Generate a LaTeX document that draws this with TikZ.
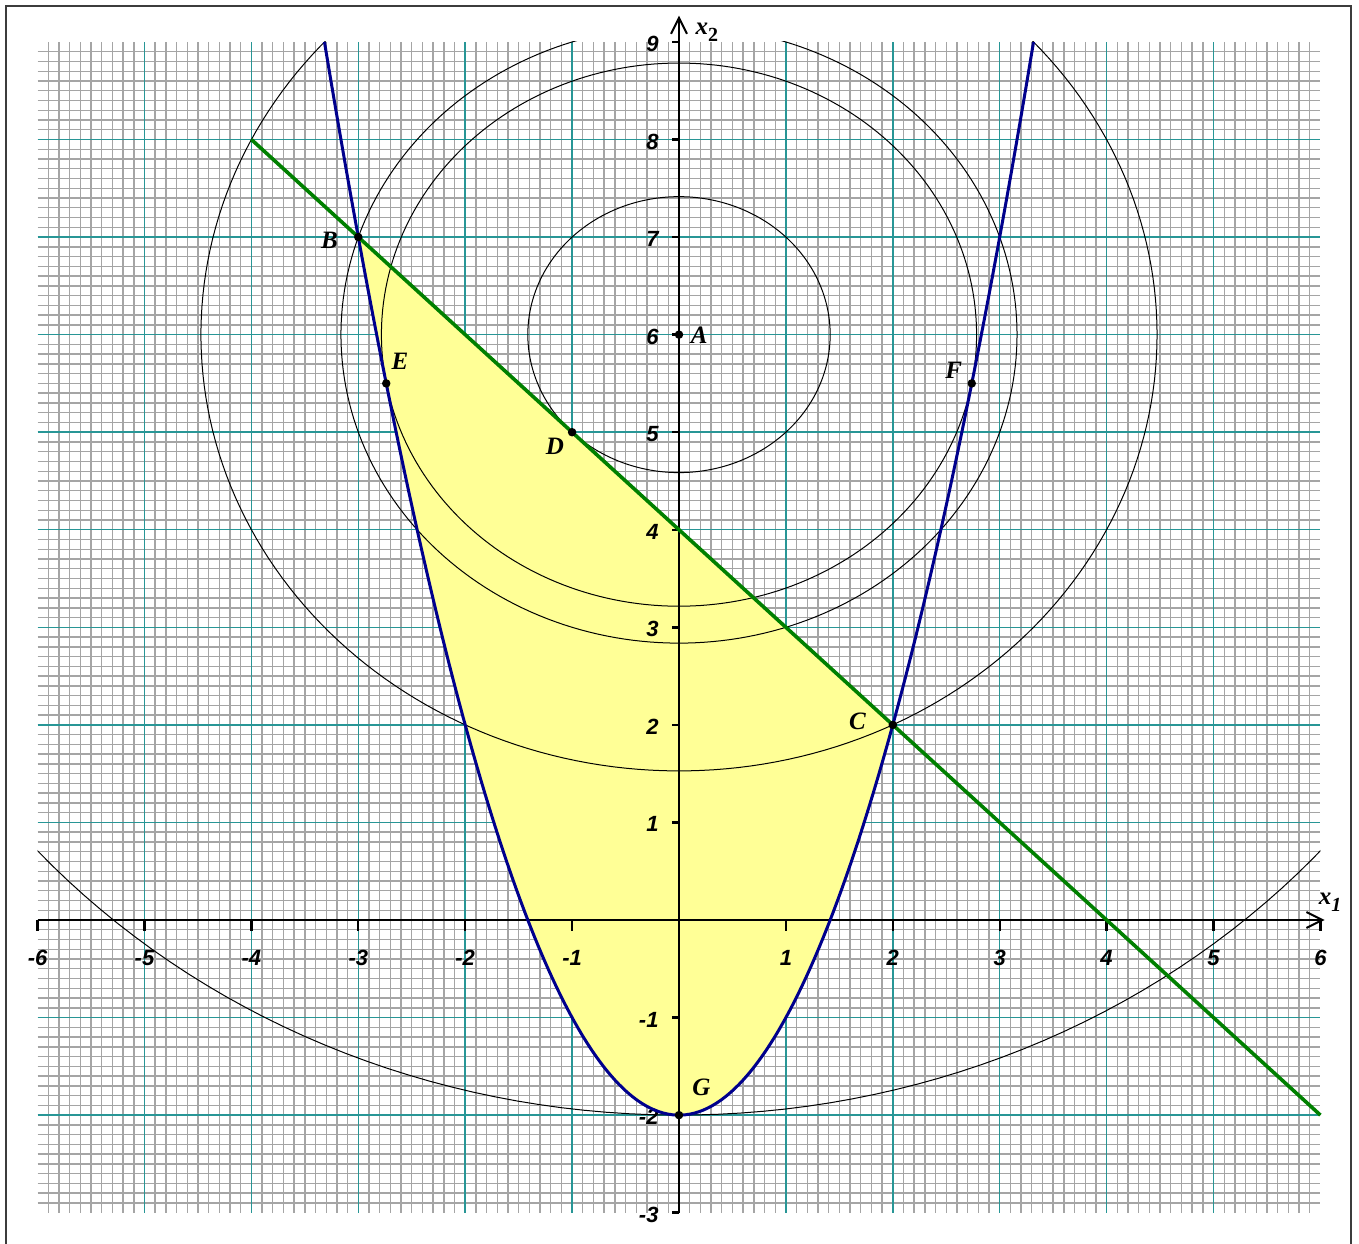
\documentclass[tikz,border=0pt]{standalone}
\usepackage{fontspec}
\setmainfont{Liberation Serif}
\newfontfamily\tickfont{Liberation Sans}
\usetikzlibrary{arrows.meta}
\definecolor{gridgrey}{RGB}{165,165,165}
\definecolor{gridteal}{RGB}{40,150,150}
\definecolor{regyellow}{RGB}{255,255,150}
\definecolor{parblue}{RGB}{0,0,140}
\definecolor{lingreen}{RGB}{0,128,0}
\definecolor{framegrey}{RGB}{60,60,60}
\begin{document}
\begin{tikzpicture}[x=106.9pt,y=97.56pt,
  minorline/.style={draw=gridgrey, line width=1.4pt},
  majorline/.style={draw=gridteal, line width=1.4pt},
  levelcurve/.style={draw=black, line width=1pt},
  parabcurve/.style={draw=parblue, line width=3pt},
  constraint/.style={draw=lingreen, line width=3.6pt},
  axisline/.style={draw=black, line width=2.8pt, -{Straight Barb[length=16pt,width=16pt,line width=2pt]}},
  tickmark/.style={draw=black, line width=2.4pt},
  ticklabel/.style={font=\tickfont\bfseries\itshape\fontsize{22}{22}\selectfont, inner sep=0pt},
  ptlabel/.style={font=\bfseries\itshape\fontsize{25}{25}\selectfont, inner sep=0pt},
  dotnode/.style={circle, fill=black, inner sep=0pt, minimum size=8.5pt}]
\useasboundingbox (-6.3517,-3.321) rectangle (6.361,9.430);
% frame
\draw[framegrey, line width=2pt] (-6.296,-3.4) -- (-6.296,9.369) -- (6.286,9.369) -- (6.286,-3.4);
% minor grid
\foreach \i in {-59,...,59} \draw[minorline] (\i/10,-3) -- (\i/10,9);
\foreach \j in {-29,...,89} \draw[minorline] (-6,\j/10) -- (6,\j/10);
% major grid
\foreach \i in {-5,...,5} \draw[majorline] (\i,-3) -- (\i,9);
\foreach \j in {-2,...,8} \draw[majorline] (-6,\j) -- (6,\j);
% feasible region
\fill[regyellow] plot[domain=-3:2, samples=120] (\x,{\x*\x-2}) -- cycle;
% level circles centred at A
\begin{scope}
\clip (-6,-3) rectangle (6,9);
\foreach \r in {1.41421,2.78388,3.16228,4.47214,8}
  \draw[levelcurve] plot[domain=0:360, samples=240] ({\r*cos(\x)},{6+\r*sin(\x)}) -- cycle;
\end{scope}
% axes
\coordinate (xs) at (-6,0);
\coordinate (xe) at (6.04,0);
\coordinate (ys) at (0,-3);
\coordinate (ye) at (0,9.27);
\draw[axisline] (xs) -- (xe);
\draw[axisline] (ys) -- (ye);
\foreach \i in {-6,...,-1,1,2,...,6} {
  \draw[tickmark] (\i,0) -- (\i,-0.11);
  \node[ticklabel] at (\i,-0.39) {\i};
}
\foreach \j in {-3,...,-1,1,2,...,9} {
  \draw[tickmark] (0,\j) -- (-0.065,\j);
  \node[ticklabel, anchor=east] at (-0.19,\j-0.02) {\j};
}
\node[font=\bfseries\itshape\fontsize{25}{25}\selectfont, inner sep=0pt] (x1lab) at (6.09,0.18) {x\raisebox{-0.3em}{\fontsize{20}{20}\selectfont 1}};
\node[font=\bfseries\itshape\fontsize{25}{25}\selectfont, inner sep=0pt] (x2lab) at (0.26,9.1) {x\raisebox{-0.3em}{\upshape\fontsize{20}{20}\selectfont 2}};
% parabola and line
\draw[parabcurve] plot[domain=-3.3166:3.3166, samples=160] (\x,{\x*\x-2});
\coordinate (L1) at (-4,8);
\coordinate (L2) at (6,-2);
\draw[constraint] (L1) -- (L2);
% points
\node[dotnode] (A) at (0,6) {};
\node[dotnode] (B) at (-3,7) {};
\node[dotnode] (C) at (2,2) {};
\node[dotnode] (D) at (-1,5) {};
\node[dotnode] (E) at (-2.7386,5.5) {};
\node[dotnode] (F) at (2.7386,5.5) {};
\node[dotnode] (G) at (0,-2) {};
\node[ptlabel] (Alab) at (0.19,5.99) {A};
\node[ptlabel] (Blab) at (-3.27,6.97) {B};
\node[ptlabel] (Clab) at (1.67,2.04) {C};
\node[ptlabel] (Dlab) at (-1.16,4.86) {D};
\node[ptlabel] (Elab) at (-2.61,5.73) {E};
\node[ptlabel] (Flab) at (2.57,5.63) {F};
\node[ptlabel] (Glab) at (0.21,-1.72) {G};
\end{tikzpicture}
\end{document}
